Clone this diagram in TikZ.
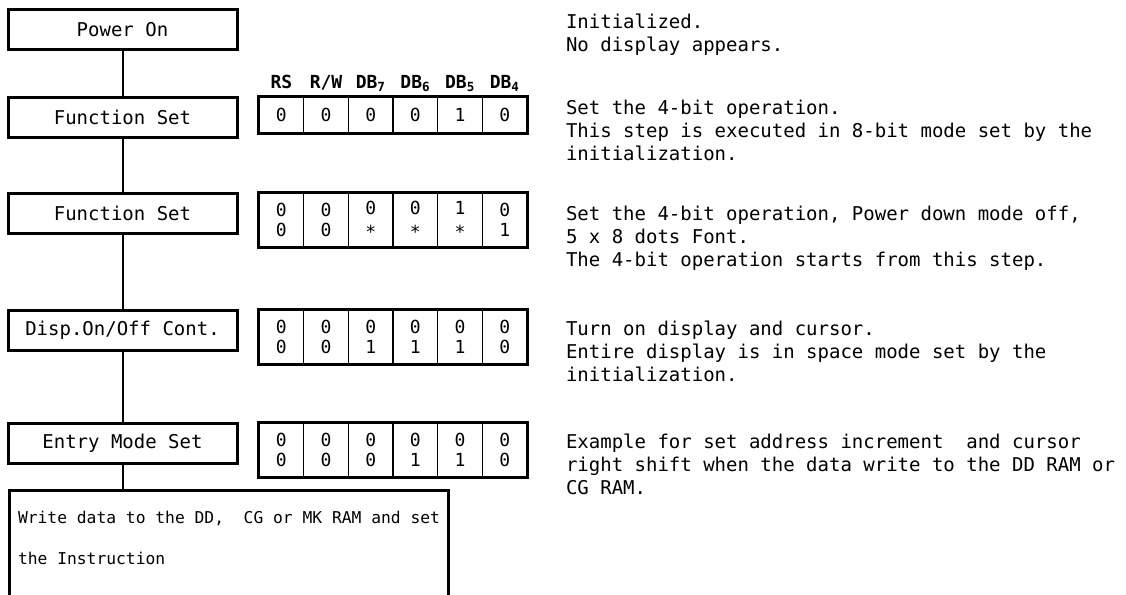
\documentclass[tikz,border=0pt]{standalone}
\usepackage{fontspec}
\setmonofont{DejaVu Sans Mono}
\usepackage{tikz}
\usetikzlibrary{calc, positioning}

\newcommand{\bitstar}{\raisebox{-0.22em}{*}}

\begin{document}
\begin{tikzpicture}[
        x=1pt, y=-1pt,
        font=\ttfamily\fontsize{19}{23}\selectfont,
        line width=2pt,
        stepbox/.style={
            draw, rectangle,
            line width=3pt,
            minimum width=229pt,
            minimum height=40pt,
            inner sep=0pt
        },
        bitcell/.style={
            draw, rectangle,
            line width=1.2pt,
            minimum width=44.67pt,
            minimum height=#1,
            inner sep=0pt,
            align=center,
            font=\ttfamily\fontsize{18}{20}\selectfont
        },
        bithdr/.style={
            inner sep=0pt, anchor=base,
            font=\ttfamily\bfseries\fontsize{18}{18}\selectfont
        },
        note/.style={
            anchor=north west,
            align=left,
            inner sep=0pt
        },
    ]
    \useasboundingbox (0,0) rectangle (1126,594);
    \clip (0,0) rectangle (1126,594);

    %============================================================
    % Flow of steps (left column)
    %============================================================
    \node[stepbox] (PWR)   at (122.5,30)  {Power On};
    \node[stepbox] (FS1)   at (122.5,117) {Function Set};
    \node[stepbox] (FS2)   at (122.5,213) {Function Set};
    \node[stepbox] (DISP)  at (122.5,330) {Disp.On/Off Cont.};
    \node[stepbox] (ENTRY) at (122.5,443) {Entry Mode Set};

    \node[draw, line width=3pt, anchor=north west, align=left,
          minimum width=439pt, inner xsep=0pt, inner ysep=21pt, text depth=60pt,
          font=\ttfamily\fontsize{16.3}{41}\selectfont]
          (WRT) at (8,489)
          {Write data to the DD,\ \ CG or MK RAM and set\\the Instruction};

    \foreach \a/\b in {PWR/FS1, FS1/FS2, FS2/DISP, DISP/ENTRY}
        \draw (\a) -- (\b);
    \draw (ENTRY.south) -- (ENTRY.south |- WRT.north);

    %============================================================
    % Bit tables: RS R/W DB7 DB6 DB5 DB4
    %============================================================
    \def\tblx{259}
    \def\colw{44.67}

    % 8-bit function set (one write)
    \foreach \v [count=\i] in {0,0,0,0,1,0}
        \node[bitcell=36pt] (TA-\i) at ({\tblx+\colw*(\i-0.5)},115) {\v};
    \draw[line width=3.5pt] (TA-1.north west) rectangle (TA-6.south east);

    \foreach \h [count=\i] in {RS, R/W, DB\textsubscript{7}, DB\textsubscript{6}, DB\textsubscript{5}, DB\textsubscript{4}}
        \node[bithdr] (HD-\i) at ($(TA-\i.north)+(0,-8)$) {\h};

    % 4-bit function set
    \foreach \a/\b [count=\i] in {0/0, 0/0, 0/\bitstar, 0/\bitstar, 1/\bitstar, 0/1}
        \node[bitcell=54pt] (TB-\i) at ({\tblx+\colw*(\i-0.5)},220) {\a\\\b};
    \draw[line width=3.5pt] (TB-1.north west) rectangle (TB-6.south east);

    % display on/off control
    \foreach \a/\b [count=\i] in {0/0, 0/0, 0/1, 0/1, 0/1, 0/0}
        \node[bitcell=54pt] (TC-\i) at ({\tblx+\colw*(\i-0.5)},337) {\a\\\b};
    \draw[line width=3.5pt] (TC-1.north west) rectangle (TC-6.south east);

    % entry mode set
    \foreach \a/\b [count=\i] in {0/0, 0/0, 0/0, 0/1, 0/1, 0/0}
        \node[bitcell=54pt] (TD-\i) at ({\tblx+\colw*(\i-0.5)},450) {\a\\\b};
    \draw[line width=3.5pt] (TD-1.north west) rectangle (TD-6.south east);

    %============================================================
    % Notes (right column)
    %============================================================
    \node[note] (NPWR)   at (565,12.5)  {Initialized.\\No display appears.};
    \node[note] (NFS1)   at (565,99.5)  {Set the 4-bit operation.\\This step is executed in 8-bit mode set by the\\initialization.};
    \node[note] (NFS2)   at (565,205.5) {Set the 4-bit operation, Power down mode off,\\5 x 8 dots Font.\\The 4-bit operation starts from this step.};
    \node[note] (NDISP)  at (565,319.5) {Turn on display and cursor.\\Entire display is in space mode set by the\\initialization.};
    \node[note] (NENTRY) at (565,432.5) {Example for set address increment\ \ and cursor\\right shift when the data write to the DD RAM or\\CG RAM.};

\end{tikzpicture}
\end{document}
